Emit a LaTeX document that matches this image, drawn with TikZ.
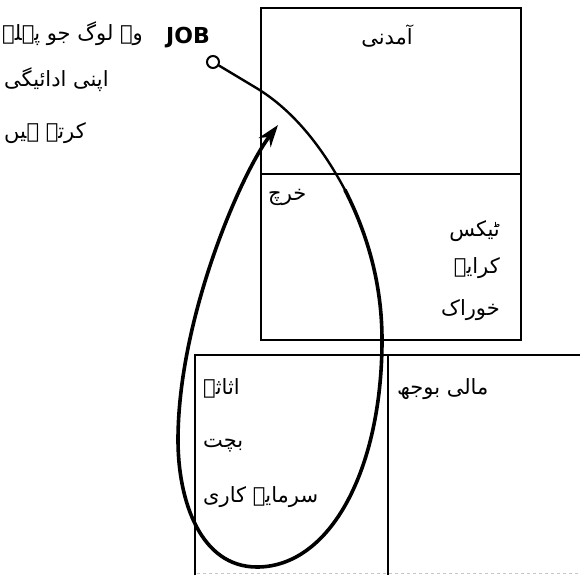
\documentclass[tikz,border=0pt]{standalone}
\usepackage{fontspec}
\usepackage{tikz}
\usetikzlibrary{arrows.meta,positioning}
\TeXXeTstate=1
\newfontfamily\urdufont[Script=Arabic]{DejaVu Sans}
\newfontfamily\latinfont{DejaVu Sans}

\begin{document}
\begin{tikzpicture}[x=1pt, y=-1pt]
    % Define styles
    \tikzstyle{urdu} = [font=\urdufont\fontsize{21}{24}\selectfont, inner sep=0pt]
    \tikzstyle{frame} = [draw=black, line width=1.6pt]
    \tikzstyle{flow} = [draw=black, line width=2.4pt, line cap=round]
    \useasboundingbox (0,0) rectangle (580,575);

    % Boxes
    \draw[frame] (261,8) rectangle (521,340);
    \draw[frame] (261,174) -- (521,174);
    \draw[frame] (195,575) -- (195,355) -- (580,355);
    \draw[frame] (388,355) -- (388,575);
    \draw[gray!45, dashed, line width=1pt] (197,573) -- (580,573);

    % Left note
    \node[urdu, anchor=west] (people) at (2,34) {\beginR وہ لوگ جو پہلے\endR};
    \node[urdu, anchor=west] (pay) at (4,80) {\beginR اپنی ادائیگی\endR};
    \node[urdu, anchor=west] (do) at (4,133) {\beginR کرتے ہیں\endR};
    \node[font=\latinfont\bfseries\fontsize{22}{26}\selectfont, inner sep=0pt] (job) at (188,38) {JOB};

    % Income and expenses
    \node[urdu] (income) at (387,36) {\beginR آمدنی\endR};
    \node[urdu, anchor=west] (expense) at (268,197) {\beginR خرچ\endR};
    \node[urdu, anchor=east] (tax) at (500,231) {\beginR ٹیکس\endR};
    \node[urdu, anchor=east] (rent) at (500,268) {\beginR کرایہ\endR};
    \node[urdu, anchor=east] (food) at (500,310) {\beginR خوراک\endR};

    % Assets and liabilities
    \node[urdu, anchor=west] (assets) at (203,388) {\beginR اثاثہ\endR};
    \node[urdu, anchor=west] (saving) at (203,446) {\beginR بچت\endR};
    \node[urdu, anchor=west] (invest) at (203,497) {\beginR سرمایہ کاری\endR};
    \node[urdu, anchor=west] (debt) at (397,389) {\beginR مالی بوجھ\endR};

    % Cash loop
    \node[circle, draw, line width=2pt, minimum size=12pt, inner sep=0pt] (start) at (213,62) {};
    \coordinate (bend) at (345,190);
    \coordinate (tip) at (278,125);
    \draw[flow] (start) -- (258,89)
        .. controls (300,115) and (328,158) .. (bend);
    \draw[flow, line width=3.6pt, -{Stealth[length=22pt, width=15pt]}] (bend)
        .. controls (368,235) and (382,285) .. (382,340)
        .. controls (382,470) and (330,567) .. (257,567)
        .. controls (200,567) and (178,500) .. (178,440)
        .. controls (178,320) and (240,175) .. (tip);
\end{tikzpicture}
\end{document}
